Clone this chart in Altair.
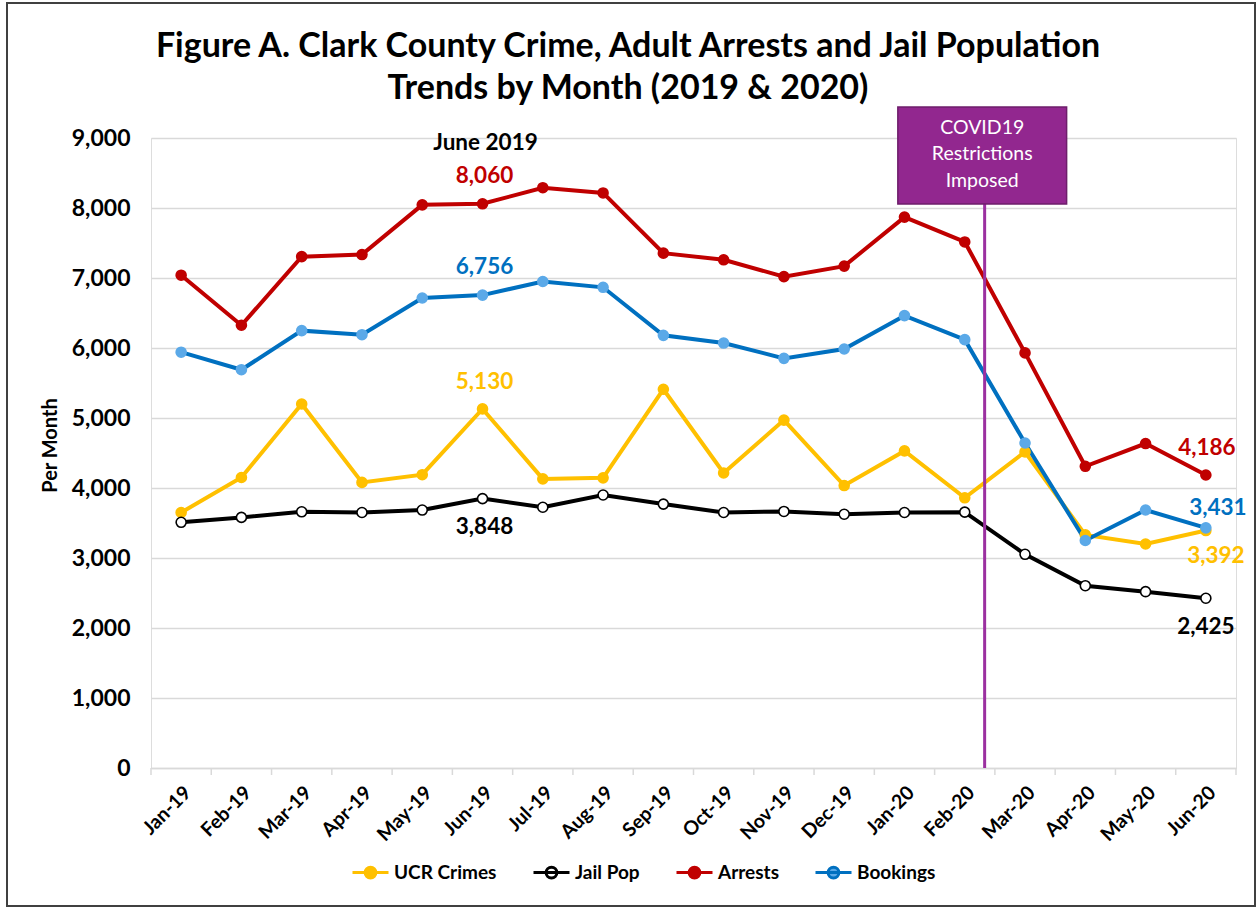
import altair as alt
import pandas as pd

# ---------------- data ----------------
months = ["Jan-19", "Feb-19", "Mar-19", "Apr-19", "May-19", "Jun-19", "Jul-19", "Aug-19",
          "Sep-19", "Oct-19", "Nov-19", "Dec-19", "Jan-20", "Feb-20", "Mar-20", "Apr-20",
          "May-20", "Jun-20"]
series_names = ["UCR Crimes", "Jail Pop", "Arrests", "Bookings"]
ucr_crimes = [3650, 4150, 5200, 4080, 4190, 5130, 4130, 4145, 5410, 4215, 4970, 4035,
              4530, 3860, 4515, 3330, 3200, 3392]
jail_pop = [3510, 3580, 3660, 3650, 3685, 3848, 3725, 3900, 3770, 3650, 3665, 3625,
            3650, 3655, 3053, 2604, 2519, 2425]
arrests = [7040, 6325, 7305, 7335, 8045, 8060, 8290, 8215, 7355, 7260, 7020, 7170,
           7870, 7515, 5930, 4310, 4635, 4186]
bookings = [5940, 5690, 6248, 6190, 6714, 6756, 6950, 6867, 6181, 6071, 5852, 5986,
            6462, 6119, 4643, 3250, 3686, 3431]
y_ticks = [0, 1000, 2000, 3000, 4000, 5000, 6000, 7000, 8000, 9000]

title_lines = ["Figure A. Clark County Crime, Adult Arrests and Jail Population",
               "Trends by Month (2019 & 2020)"]
highlight_label = "June 2019"
covid_label = "COVID19\nRestrictions\nImposed"

# ---------------- styles ----------------
line_colors = ["#FFC000", "#000000", "#C00000", "#0070C0"]
marker_fills = ["#FFC000", "#FFFFFF", "#C00000", "#5BA9E8"]
marker_strokes = ["#FFC000", "#000000", "#C00000", "#5BA9E8"]
text_colors = ["#FFC000", "#000000", "#C00000", "#0070C0"]
PURPLE = "#92278F"
FONT = "Lato"
W, H = 1085, 630

# COVID annotation placement (x in month-index units, y in data units)
covid_x = 13.33
covid_box = dict(x0=11.89, x1=14.69, y0=8057, y1=9443, text_top=9143)

series_values = [ucr_crimes, jail_pop, arrests, bookings]
rows = []
for s, vals in zip(series_names, series_values):
    for i, (m, v) in enumerate(zip(months, vals)):
        rows.append({"series": s, "idx": i, "month": m, "value": v})
df = pd.DataFrame(rows)

label_expr = "[" + ",".join(f"'{m}'" for m in months) + "][datum.value]"

x_enc = alt.X(
    "idx:Q",
    scale=alt.Scale(domain=[-0.5, len(months) - 0.5], nice=False, zero=False),
    axis=alt.Axis(values=list(range(len(months))), labelExpr=label_expr, labelAngle=-45,
                  labelFont=FONT, labelFontSize=19.5, labelFontWeight="bold", labelColor="black",
                  labelPadding=15, labelFlush=False, labelOverlap=False, ticks=False, grid=False,
                  domainColor="#D9D9D9", domainWidth=1.5, title=None),
)
y_enc = alt.Y(
    "value:Q",
    scale=alt.Scale(domain=[0, 9000], nice=False),
    axis=alt.Axis(values=y_ticks, labelExpr="format(datum.value, ',')", labelFont=FONT,
                  labelFontSize=23, labelFontWeight="bold", labelColor="black", labelPadding=21,
                  ticks=False, domain=False, gridColor="#D9D9D9", gridWidth=1.3,
                  title="Per Month", titleFont=FONT, titleFontSize=20, titleFontWeight="bold",
                  titleColor="black", titleAngle=270, titleX=-101, titleY=H / 2 - 8,
                  titleAlign="center", titleBaseline="middle"),
)

# legend symbol: short line with a circle marker in the middle
legend_path = "M-1,0L1,0M0.3,0A0.3,0.3,0,1,1,-0.3,0A0.3,0.3,0,1,1,0.3,0Z"
legend_def = alt.Legend(title=None, orient="none", legendX=200, legendY=715,
                        direction="horizontal", columns=4, symbolType=legend_path,
                        symbolSize=1296, symbolStrokeWidth=3, labelFont=FONT, labelFontSize=19,
                        labelFontWeight="bold", labelColor="black", labelOffset=4,
                        columnPadding=30)

lines = alt.Chart(df).mark_line(strokeWidth=4).encode(
    x=x_enc, y=y_enc,
    color=alt.Color("series:N", scale=alt.Scale(domain=series_names, range=line_colors),
                    sort=series_names, legend=None),
    detail="series:N",
    order="idx:Q",
)

points = alt.Chart(df).mark_point(filled=True, shape="circle", size=100, strokeWidth=1.6, opacity=1).encode(
    x=x_enc, y=y_enc,
    fill=alt.Fill("series:N", scale=alt.Scale(domain=series_names, range=marker_fills), legend=None),
    stroke=alt.Stroke("series:N", scale=alt.Scale(domain=series_names, range=marker_strokes), legend=None),
)

# legend-only layer (no marks drawn): fill = marker colour, stroke = line colour
legend_layer = alt.Chart(df).transform_filter("false").mark_point(filled=True, opacity=1).encode(
    x=x_enc, y=y_enc,
    fill=alt.Fill("series:N", scale=alt.Scale(domain=series_names, range=marker_fills),
                  sort=series_names, legend=legend_def),
    stroke=alt.Stroke("series:N", scale=alt.Scale(domain=series_names, range=line_colors),
                      sort=series_names, legend=legend_def),
)

ticks = alt.Chart(pd.DataFrame({"idx": [i - 0.5 for i in range(len(months) + 1)]})).mark_rule(
    color="#D9D9D9", strokeWidth=1.5).encode(x=x_enc, y=alt.value(H), y2=alt.value(H + 7))

covid_rule = alt.Chart(pd.DataFrame({"idx": [covid_x], "value": [covid_box["y0"]], "value2": [0]})).mark_rule(
    color="#9B30A0", strokeWidth=3).encode(x=x_enc, y=y_enc, y2="value2:Q")

covid_rect = alt.Chart(pd.DataFrame({"idx": [covid_box["x0"]], "idx2": [covid_box["x1"]],
                                     "value": [covid_box["y0"]], "value2": [covid_box["y1"]]})).mark_rect(
    fill=PURPLE, stroke="#6E1E6B", strokeWidth=1.5).encode(x=x_enc, x2="idx2:Q", y=y_enc, y2="value2:Q")

covid_text = alt.Chart(pd.DataFrame({"idx": [(covid_box["x0"] + covid_box["x1"]) / 2],
                                     "value": [covid_box["text_top"]], "label": [covid_label]})).mark_text(
    font=FONT, fontSize=19.5, color="white", lineBreak="\n", lineHeight=26.5, baseline="middle",
    align="center").encode(x=x_enc, y=y_enc, text="label:N")

# value annotations: (text, month index, value, colour, dx, dy)
last = len(months) - 1
annotations = [
    (highlight_label, 5, arrests[5], "#000000", 3, -61),
    (f"{arrests[5]:,}", 5, arrests[5], text_colors[2], 2, -28),
    (f"{bookings[5]:,}", 5, bookings[5], text_colors[3], 2, -28),
    (f"{ucr_crimes[5]:,}", 5, ucr_crimes[5], text_colors[0], 2, -27),
    (f"{jail_pop[5]:,}", 5, jail_pop[5], text_colors[1], 2, 28),
    (f"{arrests[last]:,}", last, arrests[last], text_colors[2], 1, -27),
    (f"{bookings[last]:,}", last, bookings[last], text_colors[3], 12, -20),
    (f"{ucr_crimes[last]:,}", last, ucr_crimes[last], text_colors[0], 10, 25),
    (f"{jail_pop[last]:,}", last, jail_pop[last], text_colors[1], 0, 29),
]
ann_layers = []
for txt, i, v, col, dx, dy in annotations:
    ann_layers.append(
        alt.Chart(pd.DataFrame({"idx": [i], "value": [v], "label": [txt]})).mark_text(
            font=FONT, fontSize=22.5, fontWeight="bold", color=col, dx=dx, dy=dy,
            baseline="middle", align="center").encode(x=x_enc, y=y_enc, text="label:N")
    )

title = alt.Chart(pd.DataFrame({"label": ["\n".join(title_lines)]})).mark_text(
    font=FONT, fontSize=34, fontWeight="bold", color="black", lineBreak="\n", lineHeight=42,
    baseline="middle", align="center").encode(x=alt.value(628 - 151), y=alt.value(47 - 138),
                                              text="label:N")

border = alt.Chart(pd.DataFrame({"a": [0]})).mark_rect(
    fill="transparent", stroke="#404040", strokeWidth=2).encode(
    x=alt.value(7 - 151), x2=alt.value(1255 - 151), y=alt.value(3 - 138), y2=alt.value(906 - 138))

chart = alt.layer(
    ticks, lines, points, legend_layer, covid_rule, covid_rect, covid_text, *ann_layers, title, border
).resolve_scale(
    color="independent", fill="independent", stroke="independent"
).properties(
    width=W, height=H,
    autosize=alt.AutoSizeParams(type="none"),
    padding={"left": 151, "top": 138, "right": 23, "bottom": 141},
).configure_view(stroke=None).configure(background="white")

chart.save("out.html", embed_options={"renderer": "svg", "actions": False})
